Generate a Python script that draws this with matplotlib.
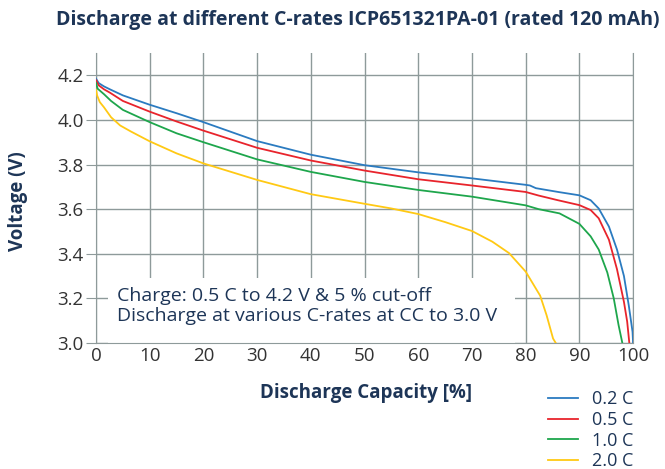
import matplotlib.pyplot as plt
from matplotlib.patches import Rectangle
import numpy as np

# Discharge curves (capacity %, voltage V)
cap_02 = [0, 0.5, 1.5, 2.6, 5, 10, 15, 20, 30, 40, 50, 60, 70, 80, 80.8, 81.9,
          86.3, 90, 92.1, 93.6, 95.5, 97, 98.3, 99.2, 99.9, 100]
volt_02 = [4.185, 4.165, 4.15, 4.137, 4.11, 4.068, 4.03, 3.99, 3.905, 3.844, 3.797, 3.765, 3.738, 3.709, 3.706, 3.694,
           3.676, 3.662, 3.64, 3.603, 3.522, 3.419, 3.30, 3.168, 3.05, 3.0]

cap_05 = [0, 0.5, 1.5, 2.6, 5, 10, 15, 20, 30, 40, 50, 60, 70, 80, 82.4, 86,
          90, 92.1, 93.6, 95.5, 97, 98.3, 98.9, 99.3]
volt_05 = [4.178, 4.155, 4.137, 4.122, 4.085, 4.037, 3.993, 3.952, 3.875, 3.818, 3.773, 3.734, 3.706, 3.677, 3.661, 3.64,
           3.618, 3.596, 3.559, 3.463, 3.331, 3.184, 3.096, 3.0]

cap_10 = [0, 0.3, 1.5, 2.8, 5, 10, 15, 20, 30, 40, 50, 60, 70, 80, 82.4, 86.3,
          90, 92.1, 93.6, 95.2, 96.4, 97.3, 98]
volt_10 = [4.166, 4.14, 4.115, 4.085, 4.045, 3.99, 3.94, 3.9, 3.823, 3.767, 3.722, 3.686, 3.656, 3.617, 3.60, 3.581,
           3.534, 3.478, 3.419, 3.316, 3.20, 3.08, 3.0]

cap_20 = [0, 0.2, 0.7, 1.5, 2.8, 4.5, 6.5, 10, 15, 20, 30, 40, 50, 55, 60, 65, 70,
          73.8, 76.9, 80, 82.7, 83.9, 85.1, 85.6]
volt_20 = [4.135, 4.11, 4.08, 4.056, 4.012, 3.975, 3.948, 3.904, 3.85, 3.805, 3.731, 3.667, 3.624, 3.603, 3.578, 3.542, 3.502,
           3.454, 3.403, 3.32, 3.212, 3.124, 3.02, 3.0]

labels = ['0.2 C', '0.5 C', '1.0 C', '2.0 C']
colors = ['#2b7bc0', '#e8242c', '#1ea64c', '#ffc914']

navy = '#1d3557'
grid_col = '#8e9a9a'

plt.rcParams['font.family'] = ['Open Sans', 'DejaVu Sans']

fig = plt.figure(figsize=(6.65, 4.69), dpi=100)
ax = fig.add_axes([0.1444, 0.2687, 0.8076, 0.6183])

series = [(cap_02, volt_02), (cap_05, volt_05), (cap_10, volt_10), (cap_20, volt_20)]
for (c, v), lab, col in zip(series, labels, colors):
    ax.plot(c, v, color=col, lw=1.3, label=lab, zorder=3, solid_joinstyle='round')

ax.set_xlim(0, 100)
ax.set_ylim(3.0, 4.3)
ax.set_xticks(np.arange(0, 101, 10))
ax.set_yticks(np.arange(3.0, 4.21, 0.2))
ax.set_yticklabels(['3.0', '3.2', '3.4', '3.6', '3.8', '4.0', '4.2'])
ax.set_axisbelow(True)
ax.grid(True, color=grid_col, lw=1.0)
ax.tick_params(axis='x', length=0, labelsize=13.5, labelcolor='#333333', pad=3)
ax.tick_params(axis='y', length=7, color=grid_col, labelsize=13.5, labelcolor='#333333', pad=2)
for s in ['left', 'right', 'bottom']:
    ax.spines[s].set_color(grid_col)
ax.spines['top'].set_visible(False)

# white note box over the grid
ax.add_patch(Rectangle((0.022, 0), 0.758, 0.224, transform=ax.transAxes,
                       facecolor='white', edgecolor='none', zorder=1))
ax.text(3.9, 3.166, 'Charge: 0.5 C to 4.2 V & 5 % cut-off\nDischarge at various C-rates at CC to 3.0 V',
        fontsize=14, color=navy, va='center', ha='left', linespacing=1.18, zorder=2)

fig.text(0.538, 0.957, 'Discharge at different C-rates ICP651321PA-01 (rated 120 mAh)',
         ha='center', va='center', fontsize=14, fontweight='bold', color=navy)
fig.text(0.55, 0.162, 'Discharge Capacity [%]', ha='center', va='center',
         fontsize=13.5, fontweight='bold', color=navy)
fig.text(0.027, 0.571, 'Voltage (V)', ha='center', va='center', rotation=90,
         fontsize=13.5, fontweight='bold', color=navy)

fig.legend(loc='upper left', bbox_to_anchor=(0.824, 0.168), frameon=False, fontsize=13,
           handlelength=1.66, handletextpad=0.78, labelspacing=0.15, labelcolor=navy,
           borderaxespad=0, borderpad=0)

fig.savefig('out.png', dpi=100)
